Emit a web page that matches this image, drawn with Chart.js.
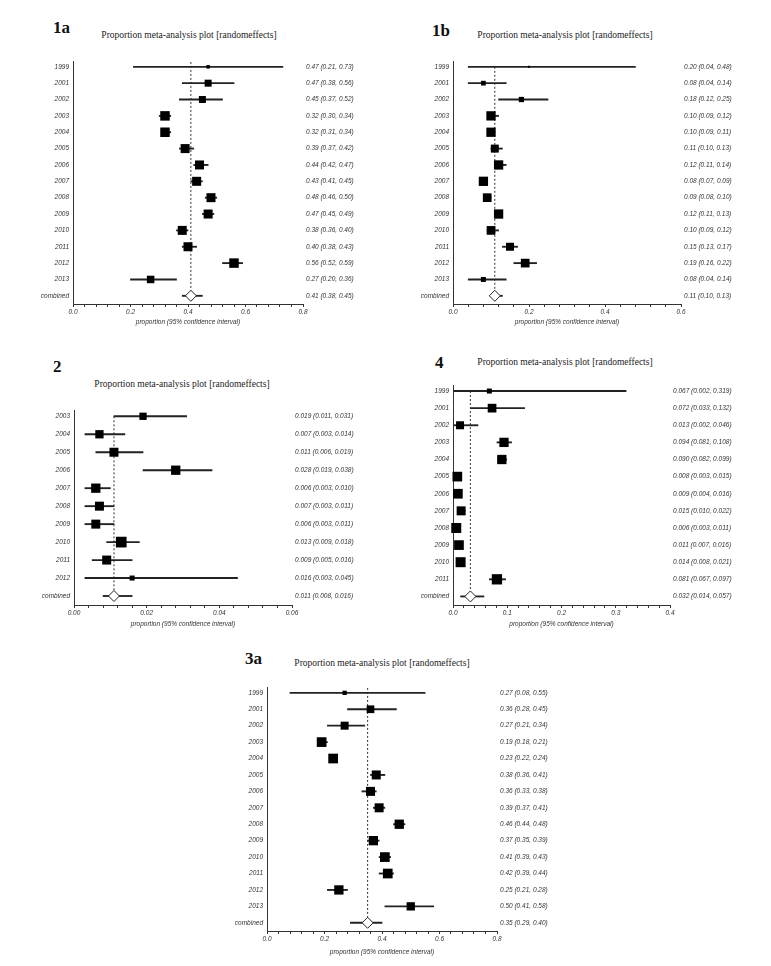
<!DOCTYPE html>
<html>
<head>
<meta charset="utf-8">
<script src="https://cdn.jsdelivr.net/npm/chart.js@4.4.1/dist/chart.umd.min.js"></script>
<style>
body { margin: 0; background: #fff; }
#page { position: relative; width: 771px; height: 966px; overflow: hidden; }
canvas { position: absolute; }
.tag { position: absolute; font: bold 17px/16px 'Liberation Serif', serif; color: #111; white-space: nowrap; }
.ttl { position: absolute; width: 300px; text-align: center; font: 9.5px/12px 'Liberation Serif', serif; color: #222; white-space: nowrap; }
</style>
</head>
<body>
<div id="page"></div>
<script>
// panel 1a
const rows1a = ['1999', '2001', '2002', '2003', '2004', '2005', '2006', '2007', '2008', '2009', '2010', '2011', '2012', '2013', 'combined'];
const est1a = [0.47, 0.47, 0.45, 0.32, 0.32, 0.39, 0.44, 0.43, 0.48, 0.47, 0.38, 0.40, 0.56, 0.27, 0.41];
const lo1a  = [0.21, 0.38, 0.37, 0.30, 0.31, 0.37, 0.42, 0.41, 0.46, 0.45, 0.36, 0.38, 0.52, 0.20, 0.38];
const hi1a  = [0.73, 0.56, 0.52, 0.34, 0.34, 0.42, 0.47, 0.45, 0.50, 0.49, 0.40, 0.43, 0.59, 0.36, 0.45];
const wt1a  = [3.5, 7, 7, 9.5, 9.5, 9, 9, 9, 9, 9, 9, 9, 9.5, 7.5]; // relative study weight
const ticks1a = [0, 0.2, 0.4, 0.6, 0.8];

// panel 1b
const rows1b = ['1999', '2001', '2002', '2003', '2004', '2005', '2006', '2007', '2008', '2009', '2010', '2011', '2012', '2013', 'combined'];
const est1b = [0.20, 0.08, 0.18, 0.10, 0.10, 0.11, 0.12, 0.08, 0.09, 0.12, 0.10, 0.15, 0.19, 0.08, 0.11];
const lo1b  = [0.04, 0.04, 0.12, 0.09, 0.09, 0.10, 0.11, 0.07, 0.08, 0.11, 0.09, 0.13, 0.16, 0.04, 0.10];
const hi1b  = [0.48, 0.14, 0.25, 0.12, 0.11, 0.13, 0.14, 0.09, 0.10, 0.13, 0.12, 0.17, 0.22, 0.14, 0.13];
const wt1b  = [2, 4.7, 5.3, 9.3, 9.3, 8, 9.3, 9.3, 8.7, 9.3, 8.7, 8, 8.7, 5];
const ticks1b = [0, 0.2, 0.4, 0.6];

// panel 2
const rows2 = ['2003', '2004', '2005', '2006', '2007', '2008', '2009', '2010', '2011', '2012', 'combined'];
const est2 = [0.019, 0.007, 0.011, 0.028, 0.006, 0.007, 0.006, 0.013, 0.009, 0.016, 0.011];
const lo2  = [0.011, 0.003, 0.006, 0.019, 0.003, 0.003, 0.003, 0.009, 0.005, 0.003, 0.008];
const hi2  = [0.031, 0.014, 0.019, 0.038, 0.010, 0.011, 0.011, 0.018, 0.016, 0.045, 0.016];
const wt2  = [7.3, 8.3, 9, 9.3, 9.3, 9, 9, 10.7, 9, 5];
const ticks2 = [0, 0.02, 0.04, 0.06];

// panel 4
const rows4 = ['1999', '2001', '2002', '2003', '2004', '2005', '2006', '2007', '2008', '2009', '2010', '2011', 'combined'];
const est4 = [0.067, 0.072, 0.013, 0.094, 0.090, 0.008, 0.009, 0.015, 0.006, 0.011, 0.014, 0.081, 0.032];
const lo4  = [0.002, 0.033, 0.002, 0.081, 0.082, 0.003, 0.004, 0.010, 0.003, 0.007, 0.008, 0.067, 0.014];
const hi4  = [0.319, 0.132, 0.046, 0.108, 0.099, 0.015, 0.016, 0.022, 0.011, 0.016, 0.021, 0.097, 0.057];
const wt4  = [5, 8.7, 8, 9.3, 9.3, 9.7, 9.7, 9, 10, 9.7, 10, 10.3];
const ticks4 = [0, 0.1, 0.2, 0.3, 0.4];

// panel 3a
const rows3a = ['1999', '2001', '2002', '2003', '2004', '2005', '2006', '2007', '2008', '2009', '2010', '2011', '2012', '2013', 'combined'];
const est3a = [0.27, 0.36, 0.27, 0.19, 0.23, 0.38, 0.36, 0.39, 0.46, 0.37, 0.41, 0.42, 0.25, 0.50, 0.35];
const lo3a  = [0.08, 0.28, 0.21, 0.18, 0.22, 0.36, 0.33, 0.37, 0.44, 0.35, 0.39, 0.39, 0.21, 0.41, 0.29];
const hi3a  = [0.55, 0.45, 0.34, 0.21, 0.24, 0.41, 0.38, 0.41, 0.48, 0.39, 0.43, 0.44, 0.28, 0.58, 0.40];
const wt3a  = [4.3, 7.7, 8, 9.7, 9.7, 9, 9, 9, 9.3, 9.3, 9.7, 9.7, 9.3, 8.3];
const ticks3a = [0, 0.2, 0.4, 0.6, 0.8];

const TITLE = 'Proportion meta-analysis plot [randomeffects]';
const XTITLE = 'proportion (95% confidence interval)';
const WL = 45, WR = 85, PT = 5;
const page = document.getElementById('page');
Chart.defaults.font.family = "'Liberation Sans', Arial, sans-serif";

function addText(cls, text, left, top) {
    const d = document.createElement('div');
    d.className = cls;
    d.textContent = text;
    d.style.left = left + 'px';
    d.style.top = top + 'px';
    page.appendChild(d);
}

function forest(p) {
    const last = p.rows.length - 1;
    const yMin = -0.3, yMax = last + 0.5;

    addText('tag', p.tag, p.tagX, p.tagBase - 13.7);
    addText('ttl', TITLE, p.titleX - 150, p.titleBase - 9.2);

    const cv = document.createElement('canvas');
    cv.width = WL + (p.R - p.L) + WR;
    cv.height = PT + (p.B - p.T) + p.xh;
    cv.style.left = (p.L - WL) + 'px';
    cv.style.top = (p.T - PT) + 'px';
    page.appendChild(cv);

    const fmt = v => v.toFixed(p.dec);
    const ciText = p.rows.map((_, i) => fmt(p.est[i]) + ' (' + fmt(p.lo[i]) + ', ' + fmt(p.hi[i]) + ')');
    const rowTicks = s => { s.ticks = p.rows.map((_, i) => ({ value: i })); };
    const step = (p.ticks[1] - p.ticks[0]) / 5;
    const xVals = [];
    for (let k = 0; k <= (p.ticks.length - 1) * 5; k++) xVals.push(p.ticks[0] + k * step);
    const font = { size: 6.5, style: 'italic' };
    const c = p.est[last];

    new Chart(cv, {
        type: 'scatter',
        data: {
            datasets: [{
                // combined estimate
                data: [{ x: c, y: last }],
                pointStyle: 'rectRot', pointRadius: 5.5,
                backgroundColor: '#fff', borderColor: '#222', borderWidth: 1, clip: false
            }, {
                // study estimates
                data: p.wt.map((_, i) => ({ x: p.est[i], y: i })),
                pointStyle: 'rect', pointRadius: p.wt.map(v => v / Math.SQRT2),
                backgroundColor: '#000', borderWidth: 0, clip: false
            }, {
                // confidence intervals
                type: 'bar', indexAxis: 'y',
                data: p.rows.map((_, i) => ({ x: [p.lo[i], p.hi[i]], y: i })),
                backgroundColor: '#222', barThickness: 1.2, borderWidth: 0
            }, {
                // dotted reference line at the combined value
                data: [{ x: c, y: p.dotTop }, { x: c, y: last }],
                showLine: true, pointRadius: 0,
                borderColor: '#333', borderWidth: 1, borderDash: [2, 2]
            }]
        },
        options: {
            responsive: false,
            animation: false,
            events: [],
            layout: { padding: { top: PT, left: 0, right: 0, bottom: 0 } },
            plugins: { legend: { display: false }, tooltip: { enabled: false } },
            scales: {
                x: {
                    type: 'linear', min: p.ticks[0], max: p.ticks[p.ticks.length - 1],
                    afterBuildTicks: s => { s.ticks = xVals.map(v => ({ value: v })); },
                    afterFit: s => { s.height = p.xh; },
                    ticks: {
                        autoSkip: false, maxRotation: 0, padding: 1.5, color: '#333', font,
                        callback: (v, i) => i % 5 === 0 ? v.toFixed(p.xdec) : ''
                    },
                    grid: { display: true, drawOnChartArea: false, drawTicks: true, tickLength: 3, color: '#333', tickColor: '#333' },
                    border: { display: true, color: '#333', width: 1 },
                    title: { display: true, text: XTITLE, color: '#333', font, padding: { top: 0, bottom: 2 } }
                },
                y: {
                    type: 'linear', reverse: true, min: yMin, max: yMax, offset: false,
                    afterBuildTicks: rowTicks,
                    afterFit: s => { s.width = WL; },
                    ticks: { autoSkip: false, padding: 4, color: '#333', font, callback: v => p.rows[v] },
                    grid: { display: false, drawTicks: false, offset: false },
                    border: { display: true, color: '#333', width: 1 }
                },
                y2: {
                    type: 'linear', axis: 'y', position: 'right', reverse: true, min: yMin, max: yMax, offset: false,
                    afterBuildTicks: rowTicks,
                    afterFit: s => { s.width = WR; },
                    ticks: { autoSkip: false, padding: 3, color: '#333', font, callback: v => ciText[v] },
                    grid: { display: false, drawTicks: false },
                    border: { display: false }
                }
            }
        }
    });
}

forest({ tag: '1a', tagX: 53, tagBase: 33.3, titleX: 189, titleBase: 38.5,
    rows: rows1a, est: est1a, lo: lo1a, hi: hi1a, wt: wt1a, ticks: ticks1a, dec: 2, xdec: 1,
    L: 73, R: 303, T: 59, B: 304, xh: 24, dotTop: -0.3 });
forest({ tag: '1b', tagX: 432, tagBase: 37, titleX: 565, titleBase: 38.3,
    rows: rows1b, est: est1b, lo: lo1b, hi: hi1b, wt: wt1b, ticks: ticks1b, dec: 2, xdec: 1,
    L: 453, R: 681, T: 59, B: 304, xh: 24, dotTop: 0 });
forest({ tag: '2', tagX: 53, tagBase: 372.7, titleX: 182, titleBase: 387,
    rows: rows2, est: est2, lo: lo2, hi: hi2, wt: wt2, ticks: ticks2, dec: 3, xdec: 2,
    L: 74, R: 292, T: 408, B: 605, xh: 25, dotTop: 0 });
forest({ tag: '4', tagX: 435, tagBase: 368.3, titleX: 565, titleBase: 365.5,
    rows: rows4, est: est4, lo: lo4, hi: hi4, wt: wt4, ticks: ticks4, dec: 3, xdec: 1,
    L: 453, R: 670, T: 383, B: 605, xh: 25, dotTop: 0 });
forest({ tag: '3a', tagX: 245, tagBase: 665, titleX: 382, titleBase: 666.5,
    rows: rows3a, est: est3a, lo: lo3a, hi: hi3a, wt: wt3a, ticks: ticks3a, dec: 2, xdec: 1,
    L: 267, R: 497, T: 685, B: 931, xh: 27, dotTop: -0.3 });
</script>
</body>
</html>
